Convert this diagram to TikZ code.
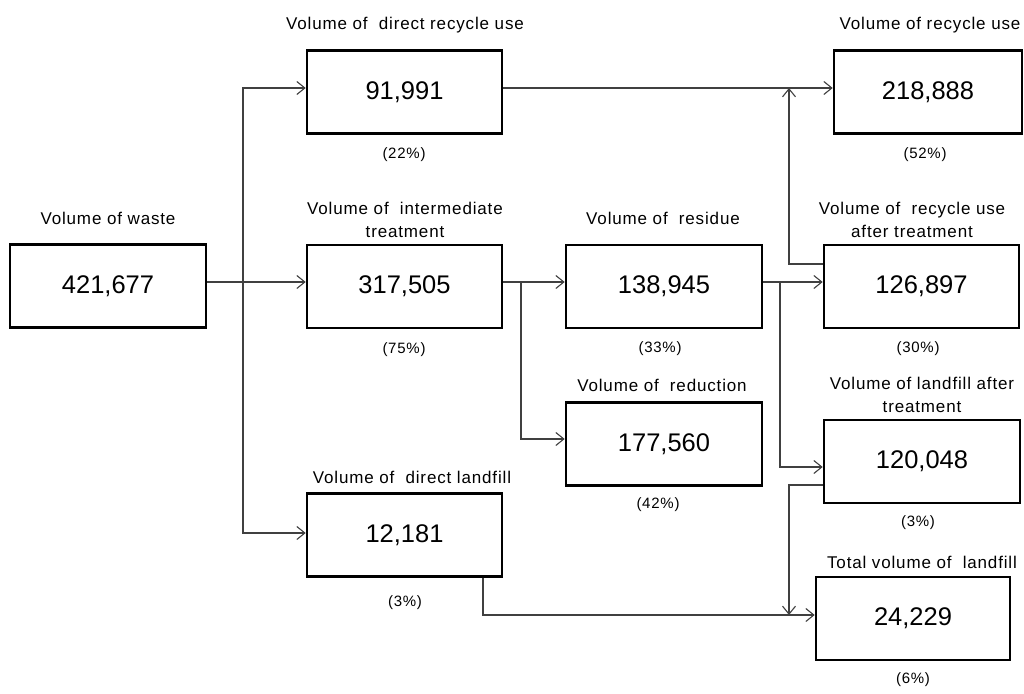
\documentclass[tikz,border=0pt]{standalone}
\usepackage{fontspec}
\setmainfont{Liberation Sans}
\newfontfamily\lblfont[LetterSpace=5]{Liberation Sans}
\usetikzlibrary{arrows.meta}
\begin{document}
\begin{tikzpicture}[x=1pt,y=-1pt,
  box/.style={draw=black,line width=2.6pt,fill=white,minimum width=#1,minimum height=83pt,inner sep=0pt,font=\fontsize{25.5}{28}\selectfont},
  box/.default=195pt,
  lbl/.style={font=\lblfont\fontsize{17}{23}\selectfont,align=center,inner sep=0pt},
  pct/.style={font=\lblfont\fontsize{15}{16}\selectfont,inner sep=0pt},
  conn/.style={draw=black!75,line width=1.2pt},
  arr/.style={conn,-{Straight Barb[length=8pt,width=13pt,line width=1.1pt]}}]
\useasboundingbox[fill=white] (0,0) rectangle (1024,693);
% boxes
\node[box=196pt] (ws) at (108,286) {421,677};
\node[box] (dr) at (404.5,92) {91,991};
\node[box] (it) at (404.5,286.5) {317,505};
\node[box=196pt] (rs) at (664,286.5) {138,945};
\node[box=196pt] (rd) at (664,444) {177,560};
\node[box] (dl) at (404.5,535) {12,181};
\node[box=188pt] (ru) at (928,92) {218,888};
\node[box] (ra) at (921.5,286.5) {126,897};
\node[box=196pt] (la) at (922,461.5) {120,048};
\node[box=194pt] (tl) at (913,618.5) {24,229};
% labels
\node[lbl] (lws) at (108,218) {Volume of waste};
\node[lbl] (ldr) at (405,25) {Volume of \ direct recycle use};
\node[pct] (pdr) at (404,155) {(22\%)};
\node[lbl] (lit) at (405,219.5) {Volume of \ intermediate\\treatment};
\node[pct] (pit) at (404,350) {(75\%)};
\node[lbl] (lrs) at (663,218) {Volume of \ residue};
\node[pct] (prs) at (660,349) {(33\%)};
\node[lbl] (lrd) at (662,385) {Volume of \ reduction};
\node[pct] (prd) at (658,505) {(42\%)};
\node[lbl] (ldl) at (412,477) {Volume of \ direct landfill};
\node[pct] (pdl) at (405,603) {(3\%)};
\node[lbl] (lru) at (930,25) {Volume of recycle use};
\node[pct] (pru) at (925,155) {(52\%)};
\node[lbl] (lra) at (912,219.5) {Volume of \ recycle use\\after treatment};
\node[pct] (pra) at (918,349) {(30\%)};
\node[lbl] (lla) at (922,395) {Volume of landfill after\\treatment};
\node[pct] (pla) at (918,523) {(3\%)};
\node[lbl] (ltl) at (922,562) {Total volume of \ landfill};
\node[pct] (ptl) at (913,680) {(6\%)};
% junctions
\coordinate (j1) at (243,282);
\coordinate (j2) at (521,282);
\coordinate (j3) at (780,282);
\coordinate (j4) at (789,88);
\coordinate (j5) at (789,615);
% connectors
\draw[arr] (ws.east |- j1) -- (it.west |- j1);
\draw[arr] (j1) |- (dr.west |- j4);
\draw[arr] (j1) |- (dl.west |- 0,533);
\draw[arr] (dr.east |- j4) -- (ru.west |- j4);
\draw[arr] (it.east |- j2) -- (rs.west |- j2);
\draw[arr] (j2) |- (rd.west |- 0,439);
\draw[arr] (rs.east |- j3) -- (ra.west |- j3);
\draw[arr] (j3) |- (la.west |- 0,467);
\draw[arr] (ra.west |- 0,264) -| (j4);
\draw[arr] (la.west |- 0,485) -| (j5);
\draw[arr] (dl.south -| 483,0) |- (tl.west |- j5);
\end{tikzpicture}
\end{document}
